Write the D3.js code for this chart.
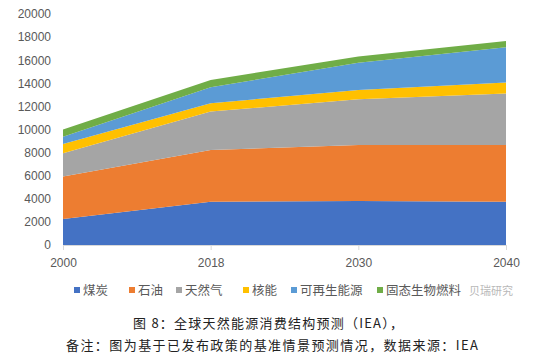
<!DOCTYPE html>
<html>
<head>
<meta charset="UTF-8">
<title>全球天然能源消费结构预测</title>
<script src="https://d3js.org/d3.v7.min.js"></script>
<style>
  body { margin: 0; background: #fff; }
  svg text { font-family: "Noto Sans CJK SC", "Microsoft YaHei", sans-serif; }
</style>
</head>
<body>
<div id="chart"></div>
<script>
// data
var years = ["2000", "2018", "2030", "2040"];
var seriesNames = ["煤炭", "石油", "天然气", "核能", "可再生能源", "固态生物燃料"];
var colors = ["#4472c4", "#ed7d31", "#a5a5a5", "#ffc000", "#5b9bd5", "#70ad47"];
var coal = [2250, 3750, 3810, 3750];
var oil = [3680, 4480, 4850, 4910];
var gas = [2010, 3320, 3960, 4450];
var nuclear = [800, 720, 810, 950];
var renewables = [630, 1390, 2360, 3060];
var biofuel = [640, 630, 520, 550];
var yTicks = [0, 2000, 4000, 6000, 8000, 10000, 12000, 14000, 16000, 18000, 20000];

var W = 550, H = 361;
var margin = {top: 14, right: 44, bottom: 116, left: 63};
var width = W - margin.left - margin.right,
    height = H - margin.top - margin.bottom;

var svg = d3.select("#chart").append("svg")
    .attr("width", W)
    .attr("height", H);

var g = svg.append("g")
    .attr("transform", "translate(" + margin.left + "," + margin.top + ")");

var rows = years.map(function(y, i) {
  return {year: y, "煤炭": coal[i], "石油": oil[i], "天然气": gas[i],
          "核能": nuclear[i], "可再生能源": renewables[i], "固态生物燃料": biofuel[i]};
});

var x = d3.scalePoint().domain(years).range([0, width]);
var y = d3.scaleLinear().domain([0, 20000]).range([height, 0]);

var stack = d3.stack().keys(seriesNames);
var layers = stack(rows);

var area = d3.area()
  .x(function(d) { return x(d.data.year); })
  .y0(function(d) { return y(d[0]); })
  .y1(function(d) { return y(d[1]); });

g.selectAll(".layer")
  .data(layers)
  .enter().append("path")
    .attr("class", "layer")
    .attr("fill", function(d, i) { return colors[i]; })
    .attr("d", area);

// y axis labels only
var yAxis = g.append("g")
  .call(d3.axisLeft(y).tickValues(yTicks).tickSize(0).tickPadding(12).tickFormat(d3.format("d")));
yAxis.select(".domain").remove();
yAxis.selectAll("text").attr("fill", "#595959").style("font-size", "12px")
  .style("font-family", "Liberation Sans, Arial, sans-serif");

// x axis
var xAxis = g.append("g")
  .attr("transform", "translate(0," + height + ")")
  .call(d3.axisBottom(x).tickSize(5).tickSizeOuter(0).tickPadding(8));
xAxis.select(".domain").attr("stroke", "#d9d9d9");
xAxis.selectAll(".tick line").attr("stroke", "#d9d9d9");
xAxis.selectAll("text").attr("fill", "#595959").style("font-size", "12px")
  .style("font-family", "Liberation Sans, Arial, sans-serif");

// legend
var legendX = [74, 129, 176, 243, 291, 377];
var legend = svg.append("g").attr("transform", "translate(0,291)");
seriesNames.forEach(function(name, i) {
  legend.append("rect")
    .attr("x", legendX[i]).attr("y", -4)
    .attr("width", 6).attr("height", 6)
    .attr("fill", colors[i]);
  legend.append("text")
    .attr("x", legendX[i] + 9).attr("y", 0)
    .attr("dy", "0.35em")
    .attr("fill", "#595959")
    .style("font-size", "12.5px")
    .text(name);
});

// watermark
svg.append("text")
  .attr("x", 469).attr("y", 291).attr("dy", "0.35em")
  .attr("fill", "#b8b8b8").style("font-size", "11px")
  .text("贝瑞研究");

// caption
svg.append("text")
  .attr("x", 133).attr("y", 323).attr("dy", "0.35em")
  .attr("fill", "#222").style("font-size", "13px")
  .attr("textLength", 270).attr("lengthAdjust", "spacing")
  .text("图 8：全球天然能源消费结构预测（IEA），");
svg.append("text")
  .attr("x", 66).attr("y", 345).attr("dy", "0.35em")
  .attr("fill", "#222").style("font-size", "13px")
  .attr("textLength", 412).attr("lengthAdjust", "spacing")
  .text("备注：图为基于已发布政策的基准情景预测情况，数据来源：IEA");
</script>
</body>
</html>
